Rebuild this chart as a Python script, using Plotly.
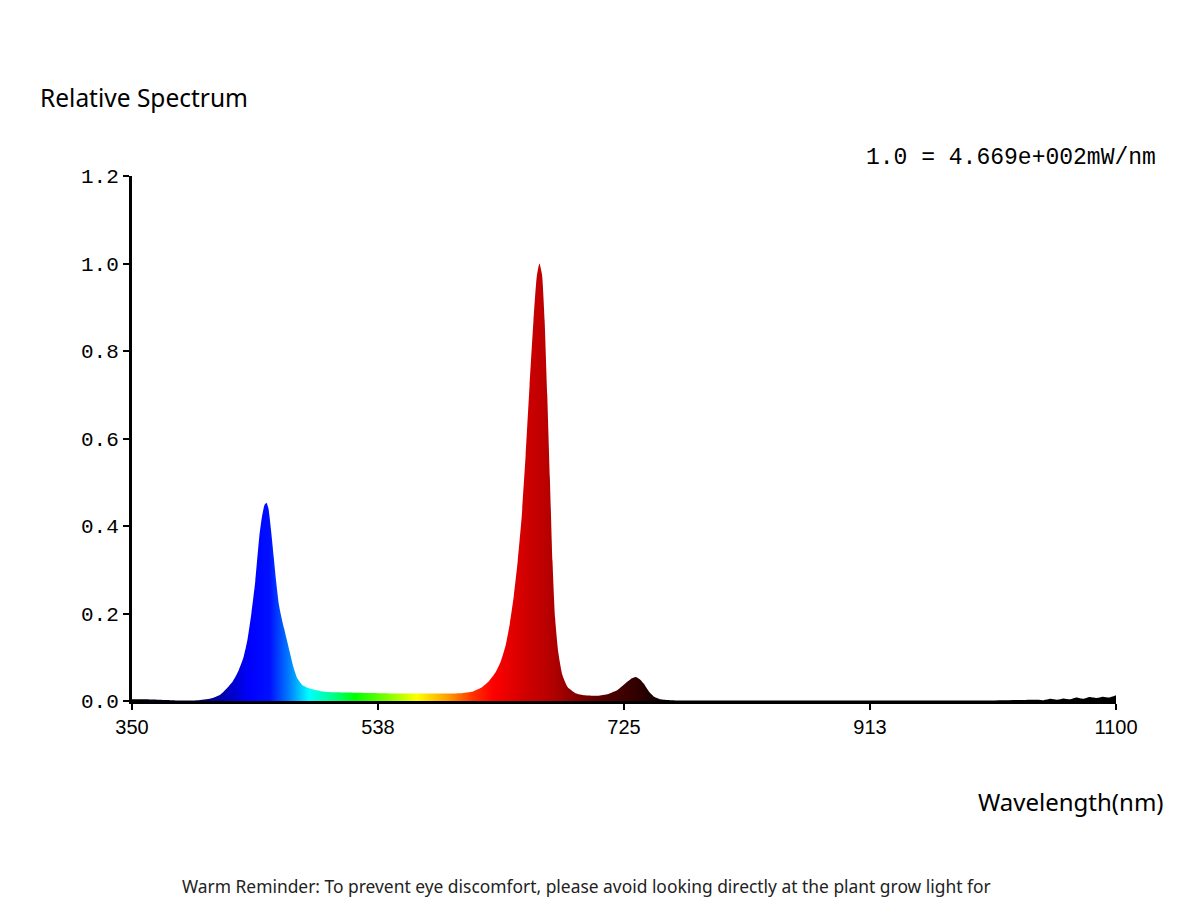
import plotly.graph_objects as go

# Wavelength (nm) and relative spectral power
wavelengths = [350, 360, 370, 380, 390, 400, 410, 417, 422, 427, 431, 435, 438, 441, 444, 447, 449, 451, 452.5,
               454, 456, 458, 460, 462, 464, 466, 468, 470, 473, 476, 480, 486, 495, 505, 520, 540, 560, 580,
               600, 610, 617, 622, 627, 631, 635, 638, 641, 644, 647, 650, 653, 656, 658.5, 660.5, 662.5, 664.5,
               666.5, 668.5, 670.5, 672.5, 675, 678, 682, 688, 695, 705, 713, 720, 726, 731, 734, 737, 740, 744,
               748, 753, 760, 800, 900, 1000, 1040, 1045, 1050, 1055, 1060, 1065, 1070, 1075, 1080, 1085, 1090,
               1095, 1100]
relative = [0.004, 0.004, 0.003, 0.002, 0.001, 0.002, 0.006, 0.014, 0.028, 0.046, 0.068, 0.1, 0.14, 0.2, 0.275,
            0.375, 0.42, 0.448, 0.453, 0.44, 0.39, 0.33, 0.27, 0.22, 0.19, 0.165, 0.14, 0.115, 0.078, 0.052, 0.036,
            0.028, 0.022, 0.02, 0.019, 0.018, 0.017, 0.017, 0.018, 0.022, 0.032, 0.045, 0.065, 0.09, 0.13, 0.177,
            0.24, 0.32, 0.42, 0.56, 0.72, 0.87, 0.97, 1.0, 0.975, 0.87, 0.70, 0.51, 0.32, 0.19, 0.11, 0.06, 0.032,
            0.018, 0.013, 0.012, 0.016, 0.025, 0.04, 0.052, 0.055, 0.05, 0.04, 0.022, 0.01, 0.004, 0.002, 0.001,
            0.001, 0.001, 0.003, 0.002, 0.005, 0.003, 0.006, 0.004, 0.008, 0.005, 0.009, 0.007, 0.01, 0.008, 0.013]

x_tick_vals = [350, 537.5, 725, 912.5, 1100]
x_tick_text = ["350", "538", "725", "913", "1100"]
y_tick_vals = [0.0, 0.2, 0.4, 0.6, 0.8, 1.0, 1.2]
y_tick_text = ["0.0", "0.2", "0.4", "0.6", "0.8", "1.0", "1.2"]

# colour stops by wavelength
color_nm = [350, 400, 415, 440, 455, 470, 485, 505, 520, 545, 567, 590, 610, 625, 650, 670, 690, 710, 735, 760, 1100]
color_hex = ["#000000", "#000060", "#0000a0", "#0000ff", "#0010ff", "#0080ff", "#00ffff", "#00ff80", "#00ff00",
             "#80ff00", "#ffff00", "#ffa000", "#ff3000", "#ff0000", "#d00000", "#b40000", "#800000", "#500000",
             "#300000", "#000000", "#000000"]

x_min, x_max = 350, 1100
colorscale = [[(n - x_min) / (x_max - x_min), c] for n, c in zip(color_nm, color_hex)]

fig = go.Figure()
fig.add_trace(go.Scatter(
    x=wavelengths, y=relative, mode="lines",
    line=dict(width=0, shape="spline", smoothing=0.5, color="rgba(0,0,0,0)"),
    fill="tozeroy",
    fillgradient=dict(type="horizontal", colorscale=colorscale, start=x_min, stop=x_max),
    hoverinfo="x+y", showlegend=False,
))

fig.update_layout(
    width=1200, height=900,
    paper_bgcolor="white", plot_bgcolor="white",
    margin=dict(l=132, r=84, t=176, b=199),
    title=dict(text="Relative Spectrum", x=40 / 1200, xref="container", xanchor="left",
               y=1 - 98 / 900, yref="container", yanchor="middle",
               font=dict(family="Noto Sans", size=24.5, color="#000000")),
    xaxis=dict(range=[x_min, x_max], tickmode="array", tickvals=x_tick_vals, ticktext=x_tick_text,
               showgrid=False, zeroline=False, showline=True, linecolor="black", linewidth=3,
               ticks="outside", ticklen=6, tickwidth=2, tickcolor="black",
               tickfont=dict(family="Liberation Sans", size=20, color="black")),
    yaxis=dict(range=[0, 1.2], tickmode="array", tickvals=y_tick_vals, ticktext=y_tick_text,
               showgrid=False, zeroline=False, showline=True, linecolor="black", linewidth=3,
               ticks="outside", ticklen=6, tickwidth=2, tickcolor="black",
               tickfont=dict(family="Liberation Mono", size=21, color="black")),
    annotations=[
        dict(text="1.0 = 4.669e+002mW/nm", xref="paper", yref="paper", x=(1158 - 132) / 984,
             y=(701 - 158) / 525, xanchor="right", yanchor="middle", showarrow=False,
             font=dict(family="Liberation Mono", size=23, color="black")),
        dict(text="Wavelength(nm)", xref="paper", yref="paper", x=(1166 - 132) / 984,
             y=(701 - 801) / 525, xanchor="right", yanchor="middle", showarrow=False,
             font=dict(family="Noto Sans", size=24, color="black")),
        dict(text="Warm Reminder: To prevent eye discomfort, please avoid looking directly at the plant grow light for",
             xref="paper", yref="paper", x=(180 - 132) / 984, y=(701 - 886) / 525,
             xanchor="left", yanchor="middle", showarrow=False,
             font=dict(family="Noto Sans", size=17.4, color="#222222")),
    ],
)

fig.write_html("out.html")
